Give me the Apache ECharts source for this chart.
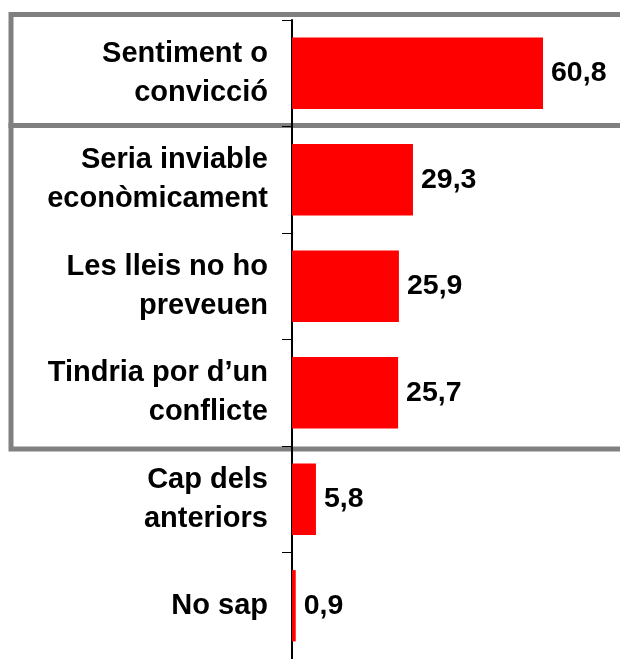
<!DOCTYPE html>
<html><head><meta charset="utf-8">
<script src="https://cdn.jsdelivr.net/npm/echarts@6/dist/echarts.min.js"></script>
<style>html,body{margin:0;padding:0;background:#fff}#c{width:620px;height:659px}</style>
</head><body><div id="c"></div>
<script>
const categories = ['Sentiment o\nconvicció','Seria inviable\neconòmicament','Les lleis no ho\npreveuen','Tindria por d\u2019un\nconflicte','Cap dels\nanteriors','No sap'];
const values = [60.8, 29.3, 25.9, 25.7, 5.8, 0.9];

const chart = echarts.init(document.getElementById('c'), null, {renderer:'canvas'});
const font = '"Liberation Sans", Arial, sans-serif';
chart.setOption({
  animation:false,
  grid:{left:292, top:20, width:289, height:640, containLabel:false},
  xAxis:{type:'value', min:0, max:70, show:false, splitLine:{show:false}},
  yAxis:{type:'category', data:categories, inverse:true,
    axisLine:{show:true, lineStyle:{color:'#000', width:2}},
    axisTick:{show:true, length:10, lineStyle:{color:'#000', width:1}},
    axisLabel:{color:'#000', fontFamily:font, fontWeight:'bold', fontSize:29, lineHeight:39, margin:24, align:'right'}
  },
  series:[{type:'bar', data:values, barWidth:'67%', itemStyle:{color:'#ff0000'},
    label:{show:true, position:'right', distance:8, color:'#000', fontFamily:font, fontWeight:'bold', fontSize:28.5,
      formatter:p=>String(p.value).replace('.',',')}}],
  graphic:[
    {type:'rect', shape:{x:11, y:14.5, width:640, height:111}, style:{fill:'none', stroke:'#808080', lineWidth:5}, z:-1},
    {type:'rect', shape:{x:11, y:125.5, width:640, height:323.5}, style:{fill:'none', stroke:'#808080', lineWidth:5}, z:-1}
  ]
});
</script></body></html>
